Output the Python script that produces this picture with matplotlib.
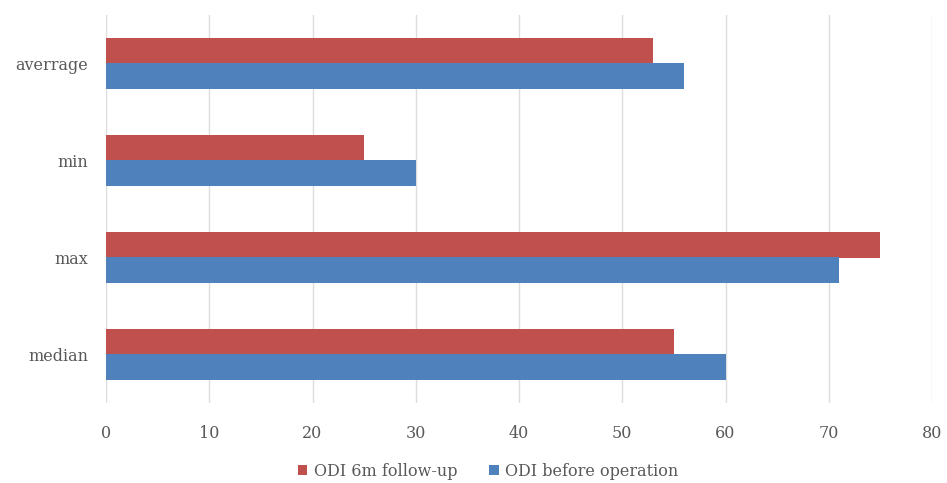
import matplotlib
matplotlib.use("Agg")
import matplotlib.pyplot as plt
import numpy as np

categories = ["averrage", "min", "max", "median"]
follow_up = [53, 25, 75, 55]
before_op = [56, 30, 71, 60]
series_names = ["ODI 6m follow-up", "ODI before operation"]
x_ticks = [0, 10, 20, 30, 40, 50, 60, 70, 80]

RED = "#C0504D"
BLUE = "#4F81BD"
TEXT = "#595959"

plt.rcParams["font.family"] = ["DejaVu Serif"]

fig = plt.figure(figsize=(9.47, 4.83), dpi=100)
ax = fig.add_axes([106 / 947, 1 - 403 / 483, 826 / 947, 388 / 483])

y = np.arange(len(categories))[::-1].astype(float)
h = 0.258
ax.barh(y + h / 2, follow_up, height=h, color=RED, label=series_names[0], zorder=3)
ax.barh(y - h / 2, before_op, height=h, color=BLUE, label=series_names[1], zorder=3)

ax.set_xlim(0, 80)
ax.set_ylim(-0.5, len(categories) - 0.5)
ax.set_xticks(x_ticks)
ax.set_xticklabels([str(t) for t in x_ticks])
ax.set_yticks(y)
ax.set_yticklabels(categories)
ax.tick_params(axis="both", length=0, colors=TEXT, labelsize=11.5)
ax.tick_params(axis="x", pad=16)
ax.tick_params(axis="y", pad=13)
ax.grid(axis="x", color="#DDDDDD", linewidth=1.0, zorder=0)
for s in ax.spines.values():
    s.set_visible(False)

leg = fig.legend(loc="center", bbox_to_anchor=(488 / 947, 1 - 471 / 483), ncol=2,
                 frameon=False, fontsize=11.5, handlelength=0.6, handleheight=0.6,
                 handletextpad=0.4, columnspacing=2.0)
for t in leg.get_texts():
    t.set_color(TEXT)

fig.savefig("out.png", dpi=100, facecolor="white")
